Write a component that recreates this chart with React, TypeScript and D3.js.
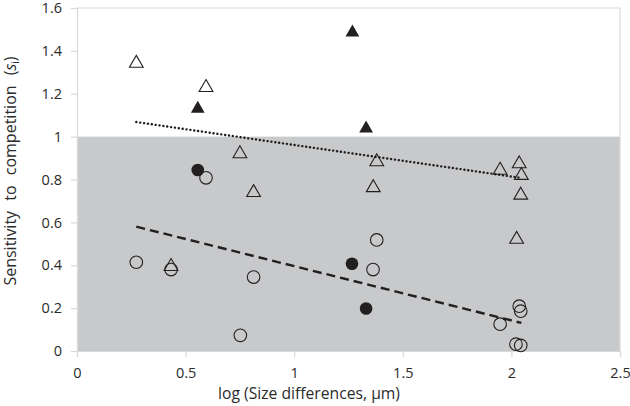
import React, { useEffect, useRef } from 'react';
import * as d3 from 'd3';

// open triangles (x = log size difference, y = sensitivity)
const openTriX = [0.273, 0.594, 0.75, 0.813, 0.433, 1.38, 1.364, 1.948, 2.036, 2.046, 2.043, 2.024];
const openTriY = [1.342, 1.229, 0.92, 0.739, 0.394, 0.883, 0.762, 0.843, 0.873, 0.819, 0.727, 0.521];

// filled triangles
const fillTriX = [0.556, 1.268, 1.331];
const fillTriY = [1.13, 1.486, 1.038];

// open circles
const openCircX = [0.273, 0.433, 0.594, 0.752, 0.813, 1.38, 1.363, 1.948, 2.036, 2.043, 2.021, 2.043];
const openCircY = [0.414, 0.38, 0.808, 0.073, 0.345, 0.518, 0.38, 0.125, 0.209, 0.186, 0.032, 0.026];

// filled circles
const fillCircX = [0.556, 1.266, 1.331];
const fillCircY = [0.844, 0.407, 0.198];

// trend lines (end points)
const trendX = [0.273, 2.046];
const triTrendY = [1.068, 0.807];
const circTrendY = [0.58, 0.131];

const xTicks = [0, 0.5, 1, 1.5, 2, 2.5];
const yTicks = [0, 0.2, 0.4, 0.6, 0.8, 1, 1.2, 1.4, 1.6];

const zip = (xs: number[], ys: number[]) => xs.map((x, i) => ({ x, y: ys[i] }));

export default function App() {
  const ref = useRef<SVGSVGElement>(null);

  useEffect(() => {
    if (!ref.current) return;
    const svg = d3.select(ref.current);
    svg.selectAll('*').remove();

    const margin = { top: 8, right: 10, bottom: 55, left: 77 };
    const W = 630, H = 406;
    const x = d3.scaleLinear().domain([0, 2.5]).range([margin.left, W - margin.right]);
    const y = d3.scaleLinear().domain([0, 1.6]).range([H - margin.bottom, margin.top]);
    const font = '"Open Sans", Lato, sans-serif';
    const ink = '#231f20';
    const textCol = '#2b2b2b';

    // shaded band below 1
    svg.append('rect')
      .attr('x', x(0)).attr('y', y(1))
      .attr('width', x(2.5) - x(0)).attr('height', y(0) - y(1))
      .attr('fill', '#c8c9cb');

    // frame
    svg.append('path')
      .attr('d', `M${x(0)},${y(1.6)}H${x(2.5)}V${y(0)}`)
      .attr('fill', 'none').attr('stroke', '#d9d9d9').attr('stroke-width', 1.2);

    // axes
    const gx = svg.append('g').attr('transform', `translate(0,${y(0)})`)
      .call(d3.axisBottom(x).tickValues(xTicks).tickSize(6).tickPadding(11)
        .tickFormat(d => String(d)));
    const gy = svg.append('g').attr('transform', `translate(${x(0)},0)`)
      .call(d3.axisLeft(y).tickValues(yTicks).tickSize(6).tickPadding(9)
        .tickFormat(d => String(d)));
    [gx, gy].forEach(g => {
      g.select('.domain').attr('stroke', '#d9d9d9').attr('stroke-width', 1.2);
      g.selectAll('.tick line').attr('stroke', '#d9d9d9').attr('stroke-width', 1.2);
      g.selectAll('.tick text').attr('font-family', font).attr('font-size', 14.5).attr('fill', textCol);
    });

    // trend lines
    const line = d3.line<{ x: number; y: number }>().x(d => x(d.x)).y(d => y(d.y));
    svg.append('path')
      .attr('d', line(zip(trendX, triTrendY)))
      .attr('fill', 'none').attr('stroke', ink).attr('stroke-width', 2.4)
      .attr('stroke-dasharray', '0.1 3.8').attr('stroke-linecap', 'round');
    svg.append('path')
      .attr('d', line(zip(trendX, circTrendY)))
      .attr('fill', 'none').attr('stroke', ink).attr('stroke-width', 2.4)
      .attr('stroke-dasharray', '9 5');

    const tri = d3.symbol().type(d3.symbolTriangle).size(82);

    // circles
    svg.selectAll('.oc').data(zip(openCircX, openCircY)).enter().append('circle')
      .attr('cx', d => x(d.x)).attr('cy', d => y(d.y)).attr('r', 6.3)
      .attr('fill', 'none').attr('stroke', ink).attr('stroke-width', 1.1);
    svg.selectAll('.fc').data(zip(fillCircX, fillCircY)).enter().append('circle')
      .attr('cx', d => x(d.x)).attr('cy', d => y(d.y)).attr('r', 6.3)
      .attr('fill', ink);

    // triangles
    svg.selectAll('.ot').data(zip(openTriX, openTriY)).enter().append('path')
      .attr('d', tri).attr('transform', d => `translate(${x(d.x)},${y(d.y)})`)
      .attr('fill', 'none').attr('stroke', ink).attr('stroke-width', 1.1);
    svg.selectAll('.ft').data(zip(fillTriX, fillTriY)).enter().append('path')
      .attr('d', tri).attr('transform', d => `translate(${x(d.x)},${y(d.y)})`)
      .attr('fill', ink);

    // axis titles
    svg.append('text')
      .attr('x', 309).attr('y', 399)
      .attr('text-anchor', 'middle').attr('font-family', font).attr('font-size', 15.7).attr('fill', textCol)
      .text('log (Size differences, µm)');

    const yt = svg.append('text')
      .attr('transform', `translate(15.5,171) rotate(-90)`)
      .attr('text-anchor', 'middle').attr('font-family', font).attr('font-size', 16)
      .attr('word-spacing', 6).attr('fill', textCol);
    yt.append('tspan').text('Sensitivity to competition (');
    yt.append('tspan').attr('font-style', 'italic').text('s');
    yt.append('tspan').attr('font-size', 10).attr('dy', 3).text('i');
    yt.append('tspan').attr('dy', -3).text(')');
  }, []);

  return (
    <svg ref={ref} width={630} height={406}
      style={{ position: 'absolute', left: 0, top: 0, background: '#fff' }} />
  );
}
